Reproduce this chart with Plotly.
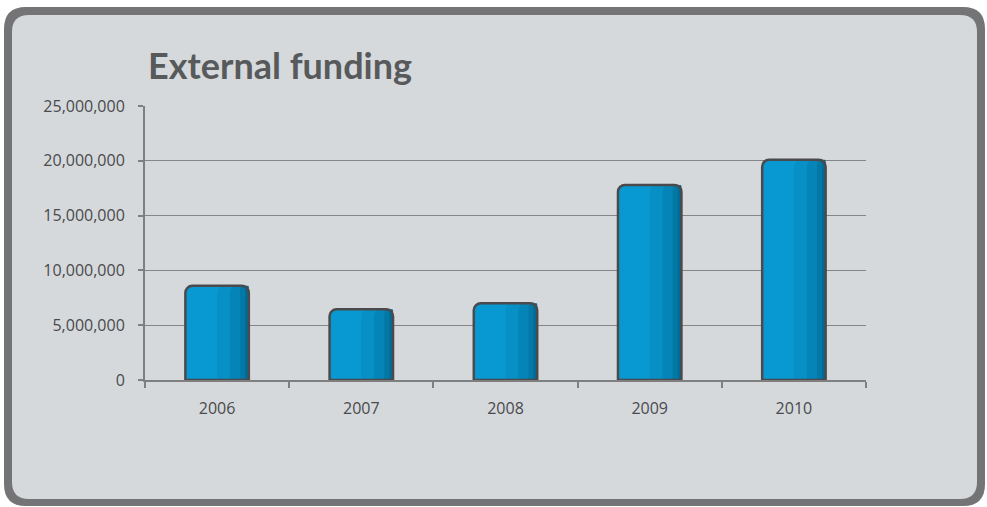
import plotly.graph_objects as go

# External funding per year
years = ["2006", "2007", "2008", "2009", "2010"]
funding = [8_600_000, 6_450_000, 7_000_000, 17_800_000, 20_100_000]

W, H = 987, 507
ML, MR, MT, MB = 145, 121, 106, 127
PW, PH = W - ML - MR, H - MT - MB


def px(x):
    return (x - ML) / PW


def py(y):
    return (H - MB - y) / PH


def rounded_rect(x0, y0, x1, y1, r):
    """SVG path of a rounded rectangle, pixel coords converted to paper coords."""
    pts = [
        ("M", x0 + r, y0), ("L", x1 - r, y0), ("Q", x1, y0, x1, y0 + r),
        ("L", x1, y1 - r), ("Q", x1, y1, x1 - r, y1), ("L", x0 + r, y1),
        ("Q", x0, y1, x0, y1 - r), ("L", x0, y0 + r), ("Q", x0, y0, x0 + r, y0),
    ]
    out = []
    for p in pts:
        cmd, coords = p[0], p[1:]
        pairs = [f"{px(coords[i]):.5f},{py(coords[i + 1]):.5f}" for i in range(0, len(coords), 2)]
        out.append(cmd + " " + " ".join(pairs))
    return " ".join(out) + " Z"


BAR_W = 0.44
fig = go.Figure()

# base fill, then progressively darker strips toward the right edge
shading = [(BAR_W, "#0899d3"), (0.22, "#0690c6"), (0.13, "#0484b7"),
           (0.06, "#0377a6"), (0.025, "#026b95")]
for w, col in shading:
    fig.add_trace(go.Bar(
        x=years, y=funding, width=w, offset=BAR_W / 2 - w,
        marker=dict(color=col, cornerradius=7, line=dict(width=0)),
        hoverinfo="skip",
    ))
# outline
fig.add_trace(go.Bar(
    x=years, y=funding, width=BAR_W, offset=-BAR_W / 2,
    marker=dict(color="rgba(0,0,0,0)", cornerradius=7,
                line=dict(color="#4a4a4c", width=2.5)),
    hovertemplate="%{x}: %{y:,}<extra></extra>",
))

fig.update_layout(
    width=W, height=H,
    margin=dict(l=ML, r=MR, t=MT, b=MB),
    paper_bgcolor="white",
    plot_bgcolor="rgba(0,0,0,0)",
    barmode="overlay",
    showlegend=False,
    font=dict(family="Open Sans", size=16, color="#4a4a4c"),
    shapes=[
        dict(type="path", xref="paper", yref="paper", layer="below",
             path=rounded_rect(4, 7, 985, 506, 22),
             fillcolor="#747476", line=dict(width=0)),
        dict(type="path", xref="paper", yref="paper", layer="below",
             path=rounded_rect(12, 15, 977, 499, 17),
             fillcolor="#d5d9dc", line=dict(width=0)),
    ],
    annotations=[
        dict(text="<b>External funding</b>", xref="paper", yref="paper",
             x=px(146), y=py(65), xanchor="left", yanchor="middle",
             showarrow=False,
             font=dict(family="Lato", size=36, color="#58595b")),
    ],
)

fig.update_xaxes(
    type="category", tickson="boundaries", ticks="outside", ticklen=6,
    tickwidth=2, tickcolor="#7f7f80", showline=True, linecolor="#7f7f80",
    linewidth=2, showgrid=False, ticklabelstandoff=13,
)
fig.update_yaxes(
    range=[0, 25_000_000], dtick=5_000_000, tickformat=",",
    ticks="outside", ticklen=5, tickwidth=2, tickcolor="#7f7f80",
    showline=True, linecolor="#7f7f80", linewidth=2,
    showgrid=True, gridcolor="#858587", gridwidth=1, zeroline=False,
    ticklabelstandoff=10,
)

fig.write_html("out.html")
